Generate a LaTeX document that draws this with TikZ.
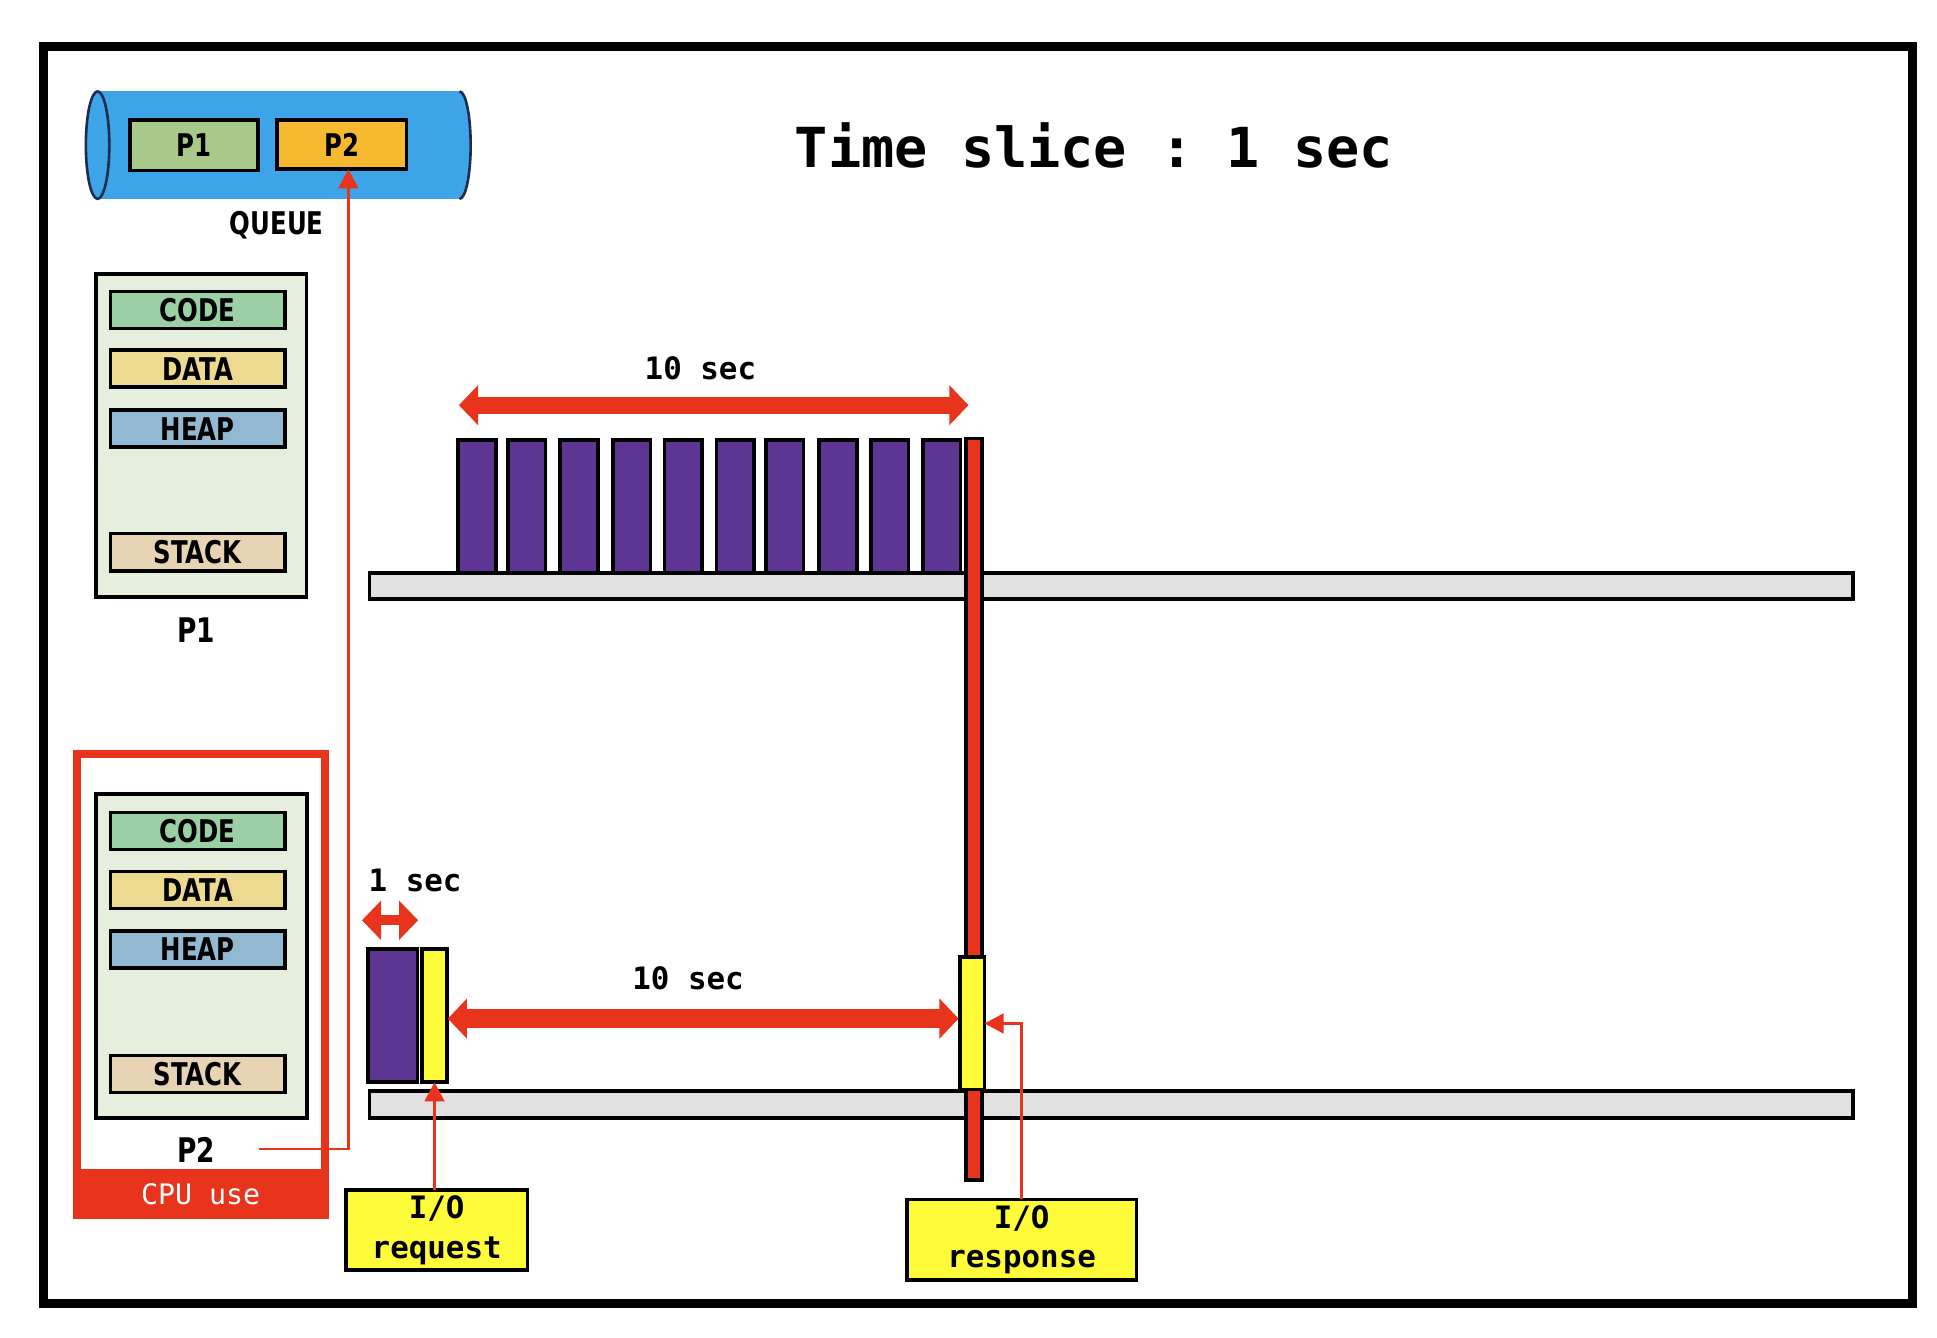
\documentclass[tikz,border=0pt]{standalone}
\usepackage{fontspec}
\setmonofont{DejaVu Sans Mono}
\newfontfamily\lblfont{DejaVu Sans}[FakeStretch=0.78]
\usetikzlibrary{arrows.meta}
\definecolor{qblue}{HTML}{3DA4E8}
\definecolor{qnavy}{HTML}{1D2D4D}
\definecolor{qgreen}{HTML}{A8C98A}
\definecolor{qorange}{HTML}{F6B930}
\definecolor{membg}{HTML}{E6EFDE}
\definecolor{ccode}{HTML}{9AD0A4}
\definecolor{cdata}{HTML}{EDD98F}
\definecolor{cheap}{HTML}{93B8D1}
\definecolor{cstack}{HTML}{E8D3B4}
\definecolor{cpured}{HTML}{E8341C}
\definecolor{cpurple}{HTML}{5E3592}
\definecolor{cyellow}{HTML}{FEFB3A}
\definecolor{greybar}{HTML}{E1E1E1}
\begin{document}
\begin{tikzpicture}[x=0.01cm,y=-0.01cm,
  box/.style={draw=black, line width=0.85pt, inner sep=0pt, outer sep=0pt,
    font=\lblfont\bfseries\fontsize{7.2}{8}\selectfont},
  lbl/.style={inner sep=0pt, font=\lblfont\bfseries\fontsize{7.2}{8}\selectfont},
  plbl/.style={inner sep=0pt, font=\lblfont\bfseries\fontsize{7.8}{9}\selectfont},
  mono/.style={inner sep=0pt, font=\ttfamily\bfseries\fontsize{7.1}{9.1}\selectfont},
  bar/.style={draw=black, line width=0.85pt, inner sep=0pt, outer sep=0pt},
  thinred/.style={draw=cpured, line width=0.55pt, -{Triangle[length=0.155cm,width=0.16cm]}},
  thickred/.style={draw=cpured, line width=0.15cm,
    {Triangle[length=0.155cm,width=0.315cm]}-{Triangle[length=0.155cm,width=0.315cm]}},
  smallred/.style={draw=cpured, line width=0.08cm,
    {Triangle[length=0.155cm,width=0.31cm]}-{Triangle[length=0.155cm,width=0.31cm]}}
]
\useasboundingbox (0,0) rectangle (1568,1083);
% outer frame
\draw[line width=2.1pt] (35.5,37.5) rectangle (1548,1055.5);

% queue cylinder
\fill[qblue] (79,74) rectangle (372,161);
\filldraw[fill=qblue, draw=qnavy, line width=0.6pt] (372,74) arc[start angle=-90, end angle=90, x radius=9, y radius=43.5];
\filldraw[fill=qblue, draw=qnavy, line width=0.6pt] (79,117.5) ellipse[x radius=9.5, y radius=43.5];
\node[box, fill=qgreen, minimum width=1.04cm, minimum height=0.41cm] (q1) at (157,117.5) {P1};
\node[box, fill=qorange, minimum width=1.05cm, minimum height=0.40cm] (q2) at (276.5,117) {P2};
\node[lbl] (queue) at (224,182) {QUEUE};

% title
\node[inner sep=0pt, font=\ttfamily\bfseries\fontsize{12.7}{14}\selectfont] (title) at (885.5,118) {Time slice : 1 sec};

% P1 memory
\node[box, fill=membg, minimum width=1.70cm, minimum height=2.61cm] (mem1) at (163,352.5) {};
\node[box, fill=ccode, minimum width=1.41cm, minimum height=0.30cm] (code1) at (160,251) {CODE};
\node[box, fill=cdata, minimum width=1.41cm, minimum height=0.30cm] (data1) at (160,298.5) {DATA};
\node[box, fill=cheap, minimum width=1.41cm, minimum height=0.30cm] (heap1) at (160,347) {HEAP};
\node[box, fill=cstack, minimum width=1.41cm, minimum height=0.30cm] (stack1) at (160,447) {STACK};
\node[plbl] (p1lbl) at (159,510) {P1};

% P2 memory with CPU frame
\draw[cpured, line width=1.85pt] (62.3,610.3) rectangle (262.7,983.7);
\fill[cpured] (59,946) rectangle (266,987);
\node[inner sep=0pt, text=white, font=\ttfamily\fontsize{6.5}{8}\selectfont] (cpu) at (162.5,967) {CPU use};
\node[box, fill=membg, minimum width=1.71cm, minimum height=2.62cm] (mem2) at (163,774) {};
\node[box, fill=ccode, minimum width=1.41cm, minimum height=0.30cm] (code2) at (160,672.7) {CODE};
\node[box, fill=cdata, minimum width=1.41cm, minimum height=0.30cm] (data2) at (160,720.4) {DATA};
\node[box, fill=cheap, minimum width=1.41cm, minimum height=0.30cm] (heap2) at (160,768.5) {HEAP};
\node[box, fill=cstack, minimum width=1.41cm, minimum height=0.30cm] (stack2) at (160,869.4) {STACK};
\node[plbl] (p2lbl) at (159,931) {P2};

% top timeline
\draw[fill=greybar, line width=0.85pt] (299,464) rectangle (1500,485);
\foreach \x in {371,411,453.5,496,538,580,620,663,705,747}
  \draw[fill=cpurple, line width=0.85pt] (\x,356) rectangle ++(30.5,107.5);
% bottom timeline
\draw[fill=greybar, line width=0.85pt] (299,883) rectangle (1500,905);
\draw[fill=cpurple, line width=0.85pt] (298,768.5) rectangle (338,876);
\node[bar, fill=cyellow, minimum width=0.205cm, minimum height=1.075cm] (yb1) at (351.75,822.25) {};
% red vertical bar and I/O box
\draw[fill=cpured, line width=0.85pt] (782,355) rectangle (795,955.5);
\node[bar, fill=cyellow, minimum width=0.20cm, minimum height=1.07cm] (yb2) at (787,828.5) {};

% measurement arrows
\coordinate (ta1) at (371.5,328);
\coordinate (ta2) at (784,328);
\draw[thickred, line width=0.14cm] (ta1) -- (ta2);
\node[mono] (tensec1) at (567,298) {10 sec};
\coordinate (sa1) at (293,745);
\coordinate (sa2) at (338.5,745);
\draw[smallred] (sa1) -- (sa2);
\node[mono] (onesec) at (336,712.5) {1 sec};
\coordinate (ba1) at (362.5,824.6);
\coordinate (ba2) at (776,824.6);
\draw[thickred] (ba1) -- (ba2);
\node[mono] (tensec2) at (557,792) {10 sec};

% I/O labels
\node[bar, fill=cyellow, minimum width=1.47cm, minimum height=0.645cm, align=center,
  font=\ttfamily\bfseries\fontsize{7.1}{9.1}\selectfont] (ioreq) at (353.5,995.7) {I/O\\request};
\node[bar, fill=cyellow, minimum width=1.86cm, minimum height=0.65cm, align=center,
  font=\ttfamily\bfseries\fontsize{7.1}{9.1}\selectfont] (iores) at (827,1003.5) {I/O\\response};

% thin connectors
\coordinate (c1) at (209.5,930);
\draw[thinred] (c1) -| ([xshift=0.055cm]q2.south);
\draw[thinred] (ioreq.north -| yb1.south) -- (yb1.south);
\draw[thinred] (iores.north) |- (yb2.east);
\end{tikzpicture}
\end{document}
